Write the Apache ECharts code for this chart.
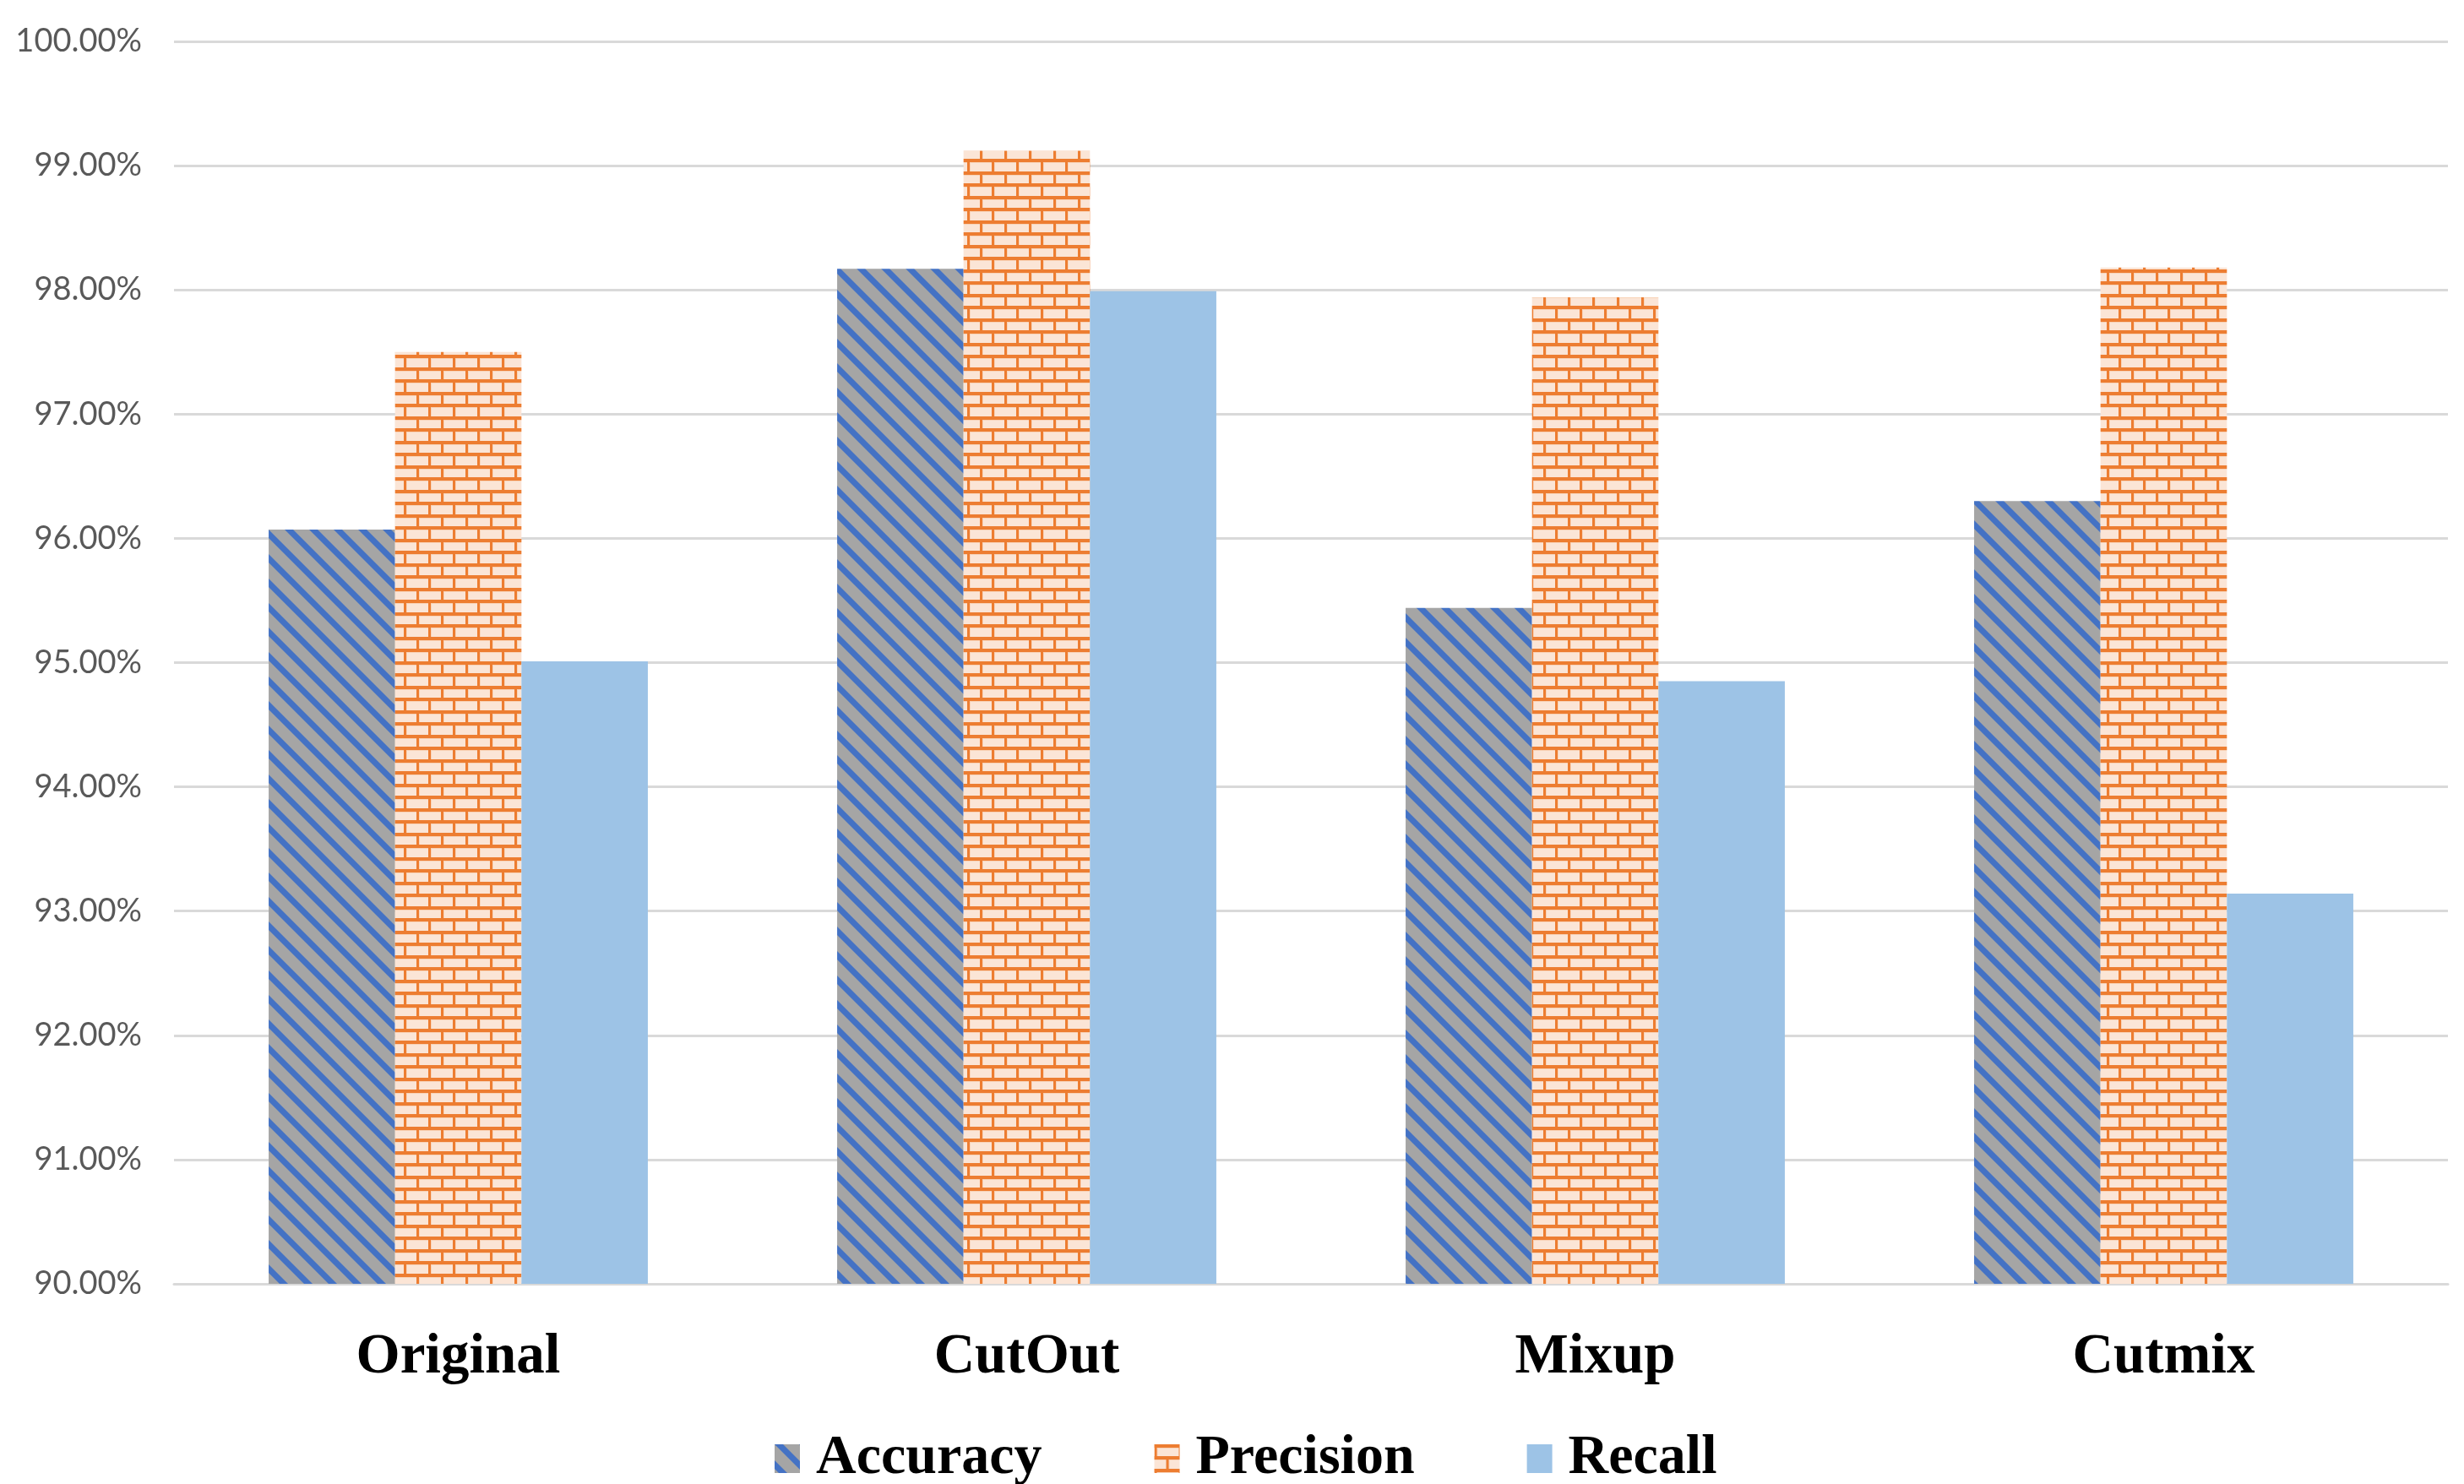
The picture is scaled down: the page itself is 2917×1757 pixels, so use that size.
<!DOCTYPE html>
<html>
<head>
<meta charset="utf-8">
<script src="https://cdn.jsdelivr.net/npm/echarts@6/dist/echarts.min.js"></script>
<style>
html,body{margin:0;padding:0;background:#fff;}
#chart{width:2917px;height:1757px;}
</style>
</head>
<body>
<div id="chart"></div>
<script>
const categories = ['Original', 'CutOut', 'Mixup', 'Cutmix'];
const accuracy = [96.07, 98.17, 95.44, 96.30];
const precision = [97.50, 99.12, 97.94, 98.18];
const recall = [95.01, 97.99, 94.85, 93.14];
const seriesNames = ['Accuracy', 'Precision', 'Recall'];

function stripeTile() {
  const p = 29, w = 10;
  const c = document.createElement('canvas');
  c.width = p; c.height = p;
  const g = c.getContext('2d');
  g.fillStyle = '#A5A5A5';
  g.fillRect(0, 0, p, p);
  g.fillStyle = '#4472C4';
  for (const k of [-p, 0, p]) {
    g.beginPath();
    g.moveTo(k, 0);
    g.lineTo(k + w, 0);
    g.lineTo(k + w + p, p);
    g.lineTo(k + p, p);
    g.closePath();
    g.fill();
  }
  return c;
}
function brickTile() {
  const bw = 29, h1 = 14, h2 = 15, t = 4, tv = 3;
  const c = document.createElement('canvas');
  c.width = bw; c.height = h1 + h2;
  const g = c.getContext('2d');
  g.fillStyle = '#FBE5D6';
  g.fillRect(0, 0, bw, h1 + h2);
  // faint brick edges
  g.fillStyle = '#F8D3B8';
  g.fillRect(0, t, bw, 1);
  g.fillRect(0, h1 + t, bw, 1);
  g.fillRect(tv, 0, 1, h1);
  g.fillRect(Math.floor(bw / 2) + tv, h1, 1, h2);
  g.fillStyle = '#ED7D31';
  g.fillRect(0, 0, bw, t);
  g.fillRect(0, h1, bw, t);
  g.fillRect(0, 0, tv, h1);
  g.fillRect(Math.floor(bw / 2), h1, tv, h2);
  return c;
}

const chart = echarts.init(document.getElementById('chart'));
chart.setOption({
  backgroundColor: '#ffffff',
  animation: false,
  grid: { left: 206, right: 19, top: 49, bottom: 237 },
  legend: {
    data: seriesNames,
    left: 912,
    top: 1686,
    itemWidth: 30,
    itemHeight: 34,
    itemGap: 133,
    icon: 'rect',
    textStyle: {
      fontFamily: 'Liberation Serif',
      fontWeight: 'bold',
      fontSize: 66,
      color: '#000',
      lineHeight: 72,
      padding: [0, 0, 0, 14]
    }
  },
  xAxis: {
    type: 'category',
    data: categories,
    axisTick: { show: false },
    axisLine: { lineStyle: { color: '#D9D9D9', width: 3 } },
    axisLabel: {
      margin: 54,
      fontFamily: 'Liberation Serif',
      fontWeight: 'bold',
      fontSize: 67,
      color: '#000'
    }
  },
  yAxis: {
    type: 'value',
    min: 90,
    max: 100,
    interval: 1,
    axisLine: { show: false },
    axisTick: { show: false },
    splitLine: { lineStyle: { color: '#D9D9D9', width: 3 } },
    axisLabel: {
      margin: 38,
      fontFamily: 'Lato',
      fontSize: 38,
      color: '#595959',
      formatter: v => v.toFixed(2) + '%'
    }
  },
  series: [
    {
      name: 'Accuracy', type: 'bar', data: accuracy,
      barGap: '0%', barCategoryGap: '33.3%',
      itemStyle: { color: { image: stripeTile(), repeat: 'repeat' } }
    },
    {
      name: 'Precision', type: 'bar', data: precision,
      barGap: '0%', barCategoryGap: '33.3%',
      itemStyle: { color: { image: brickTile(), repeat: 'repeat' } }
    },
    {
      name: 'Recall', type: 'bar', data: recall,
      barGap: '0%', barCategoryGap: '33.3%',
      itemStyle: { color: '#9DC3E6' }
    }
  ]
});
</script>
</body>
</html>
